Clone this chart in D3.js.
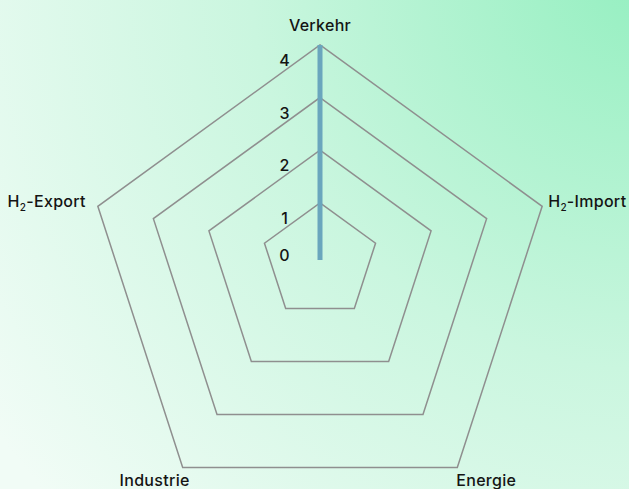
<!DOCTYPE html>
<html>
<head>
<meta charset="utf-8">
<script src="https://cdn.jsdelivr.net/npm/d3@7"></script>
<style>
  html, body { margin: 0; padding: 0; }
  body { width: 629px; height: 489px; overflow: hidden; }
  text { font-family: Inter, "Open Sans", sans-serif; fill: #141414; font-weight: 500; }
</style>
</head>
<body>
<div id="chart"></div>
<script>
const categories = ["Verkehr", "H2-Import", "Energie", "Industrie", "H2-Export"];
const values = [4, 0, 0, 0, 0];
const levels = [1, 2, 3, 4];
const tickLabels = [0, 1, 2, 3, 4];

const width = 629;
const height = 489;
const cx = 320;

// grid rings drift down a little as they grow, like in the original
const rGrid = d3.scaleLinear().domain([0, 4]).range([0, 233.6]);
const cyGrid = d3.scaleLinear().domain([0, 4]).range([255.5, 278.5]);
const rVal = d3.scaleLinear().domain([0, 4]).range([0, 215]);
const cyVal = 260;
const angle = (i) => (i * 2 * Math.PI) / categories.length;

const svg = d3
  .select("#chart")
  .append("svg")
  .attr("width", width)
  .attr("height", height);

const grad = svg
  .append("defs")
  .append("radialGradient")
  .attr("id", "bg")
  .attr("gradientUnits", "userSpaceOnUse")
  .attr("cx", 650)
  .attr("cy", -30)
  .attr("r", 800);
grad.append("stop").attr("offset", "0%").attr("stop-color", "#94efc0");
grad.append("stop").attr("offset", "50%").attr("stop-color", "#caf6df");
grad.append("stop").attr("offset", "100%").attr("stop-color", "#f1fcf6");

svg
  .append("rect")
  .attr("width", width)
  .attr("height", height)
  .attr("fill", "url(#bg)");

const ring = (k) =>
  d3
    .lineRadial()
    .angle((d, i) => angle(i))
    .radius(() => rGrid(k))
    .curve(d3.curveLinearClosed)(categories);

svg
  .append("g")
  .selectAll("path")
  .data(levels)
  .enter()
  .append("path")
  .attr("transform", (k) => `translate(${cx},${cyGrid(k)})`)
  .attr("d", (k) => ring(k))
  .attr("fill", "none")
  .attr("stroke", "#8f8f8f")
  .attr("stroke-width", 1.5);

// series
const series = d3
  .lineRadial()
  .angle((d, i) => angle(i))
  .radius((d) => rVal(d))
  .curve(d3.curveLinearClosed);

svg
  .append("path")
  .datum(values)
  .attr("transform", `translate(${cx},${cyVal})`)
  .attr("d", series)
  .attr("fill", "rgba(106,166,189,0.2)")
  .attr("stroke", "#6aa6bd")
  .attr("stroke-width", 5)
  .attr("stroke-linejoin", "bevel");

// tick labels
svg
  .append("g")
  .selectAll("text")
  .data(tickLabels)
  .enter()
  .append("text")
  .attr("x", 284.5)
  .attr("y", (k) =>
    k === 0 ? 261 : cyGrid(k) - rGrid(k) + 21
  )
  .attr("text-anchor", "middle")
  .attr("font-size", 16)
  .text((d) => d);

// axis labels
const labelOffsets = [
  { dx: 0, dy: -14, anchor: "middle" },
  { dx: 6, dy: 1, anchor: "start" },
  { dx: -1, dy: 19, anchor: "start" },
  { dx: 7, dy: 19, anchor: "end" },
  { dx: -12, dy: 1, anchor: "end" },
];

const labels = svg
  .append("g")
  .selectAll("text")
  .data(categories)
  .enter()
  .append("text")
  .attr("x", (d, i) => cx + rGrid(4) * Math.sin(angle(i)) + labelOffsets[i].dx)
  .attr("y", (d, i) => cyGrid(4) - rGrid(4) * Math.cos(angle(i)) + labelOffsets[i].dy)
  .attr("text-anchor", (d, i) => labelOffsets[i].anchor)
  .attr("font-size", 16)
  .attr("letter-spacing", 0.3);

labels.each(function (d) {
  const t = d3.select(this);
  const m = d.match(/^H2(.*)$/);
  if (m) {
    t.append("tspan").text("H");
    t.append("tspan").attr("font-size", 10).attr("dy", 4).text("2");
    t.append("tspan").attr("dy", -4).text(m[1]);
  } else {
    t.text(d);
  }
});
</script>
</body>
</html>
